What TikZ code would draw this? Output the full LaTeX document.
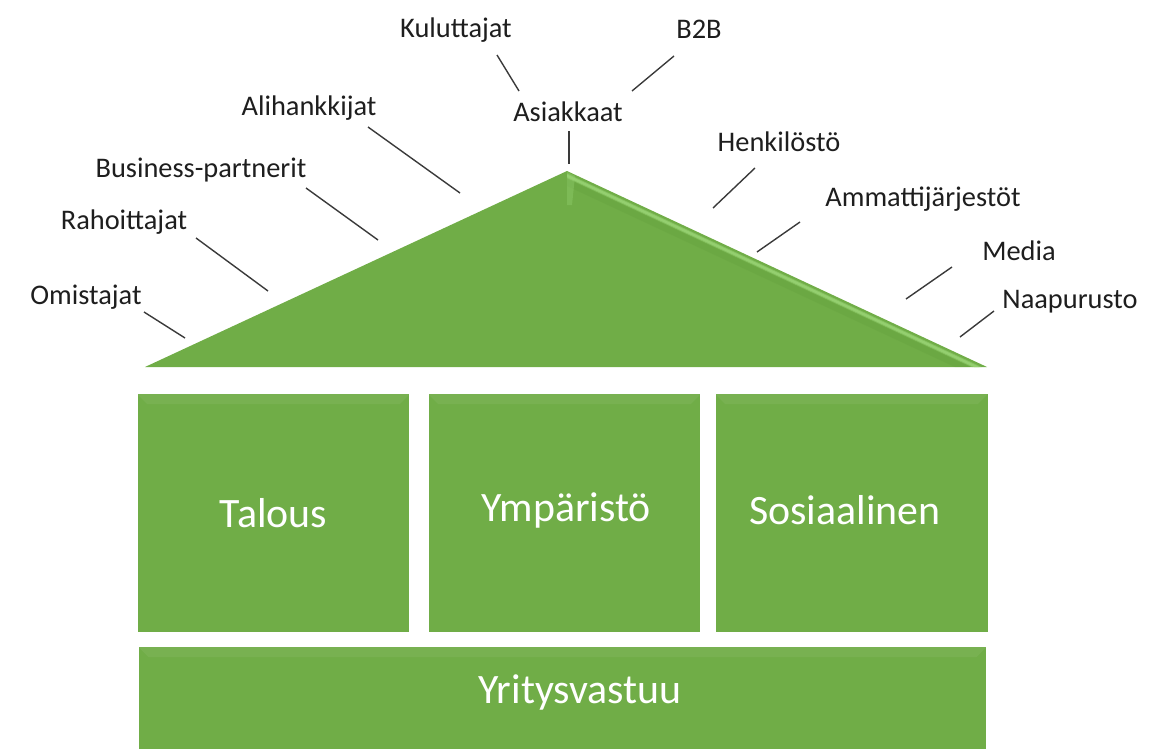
\documentclass[tikz,border=0pt]{standalone}
\usepackage{fontspec}
\setmainfont{Carlito}
\definecolor{leaf}{HTML}{70AD47}
\definecolor{leaflight}{HTML}{98D374}
\definecolor{leafdark}{HTML}{5F9A3A}
\definecolor{ink}{HTML}{1E1E1E}
\definecolor{wire}{HTML}{3A3A3A}
\tikzset{
  pillar/.style={fill=leaf, draw=none, inner sep=0pt},
  pillartext/.style={text=white, font=\fontsize{42}{48}\selectfont},
  tag/.style={inner sep=0pt, text=ink, font=\fontsize{28.5}{34}\selectfont},
  wirestyle/.style={draw=wire, line width=1.4bp},
}
% strip just under the right slope, between vertical offsets #1 and #2
\newcommand{\slopestrip}[3]{%
  \fill[#3] (567,171+#1) -- ({567+(196-#1)/0.4667},367) --
    ({567+(196-#2)/0.4667},367) -- (567,171+#2) -- cycle;}
\begin{document}
\begin{tikzpicture}[x=1bp, y=-1bp]
\useasboundingbox (0,0) rectangle (1150,749);
\clip (0,0) rectangle (1150,749);

% roof
\coordinate (roofL) at (145,367);
\coordinate (roofT) at (567,171);
\coordinate (roofR) at (987,367);
\fill[leaf] (roofL) -- (roofT) -- (roofR) -- cycle;
% bevel along the right slope
\slopestrip{8}{15}{leafdark, opacity=0.25}
\slopestrip{2.5}{7}{leaflight, opacity=0.55}
\slopestrip{3.5}{6}{leaflight, opacity=0.8}
% fold at the ridge
\fill[leaflight, opacity=0.35] (567,172) -- (575,176) -- (572,205) -- (567,205) -- cycle;

% pillars
\node[pillar, minimum width=273, minimum height=238] (talous) at (273.5,513) {};
\node[pillar, minimum width=273, minimum height=238] (ymp) at (564.5,513) {};
\node[pillar, minimum width=273, minimum height=238] (sos) at (851.5,513) {};
\node[pillar, minimum width=851, minimum height=110] (base) at (562.5,702) {};
% soft top bevel on the blocks
\foreach \b in {talous,ymp,sos,base}{
  \fill[white, opacity=0.06] (\b.north west) -- (\b.north east) -- ([shift={(-10,10)}]\b.north east) -- ([shift={(10,10)}]\b.north west) -- cycle;
}
\node[pillartext] (talousT) at (273.5,513) {Talous};
\node[pillartext] (ympT) at (566,510) {Ympäristö};
\node[pillartext] (sosT) at (845,510) {Sosiaalinen};
\node[pillartext] (baseT) at (580,692) {Yritysvastuu};

% stakeholder labels
\node[tag] (kul) at (456,30) {Kuluttajat};
\node[tag] (b2b) at (699,29) {B2B};
\node[tag] (asi) at (568,112) {Asiakkaat};
\node[tag] (ali) at (309,108) {Alihankkijat};
\node[tag] (bus) at (201,170) {Business-partnerit};
\node[tag] (rah) at (124,222) {Rahoittajat};
\node[tag] (omi) at (86,297) {Omistajat};
\node[tag] (hen) at (779,142) {Henkilöstö};
\node[tag] (amm) at (923,199) {Ammattijärjestöt};
\node[tag] (med) at (1019,251) {Media};
\node[tag] (naa) at (1070,302) {Naapurusto};

% connector end points
\coordinate (kulA) at (497,55);   \coordinate (kulB) at (519,91);
\coordinate (b2bA) at (674,56);   \coordinate (b2bB) at (632,91);
\coordinate (asiA) at (569,131);  \coordinate (asiB) at (569,164);
\coordinate (aliA) at (368,127);  \coordinate (aliB) at (460,193);
\coordinate (busA) at (306,188);  \coordinate (busB) at (378,240);
\coordinate (rahA) at (196,238);  \coordinate (rahB) at (268,291);
\coordinate (omiA) at (144,312);  \coordinate (omiB) at (185,338);
\coordinate (henA) at (755,168);  \coordinate (henB) at (713,208);
\coordinate (ammA) at (800,222);  \coordinate (ammB) at (757,252);
\coordinate (medA) at (952,267);  \coordinate (medB) at (906,299);
\coordinate (naaA) at (994,311);  \coordinate (naaB) at (960,337);

\foreach \n in {kul,b2b,asi,ali,bus,rah,omi,hen,amm,med,naa}{
  \draw[wirestyle] (\n A) -- (\n B);
}
\end{tikzpicture}
\end{document}
